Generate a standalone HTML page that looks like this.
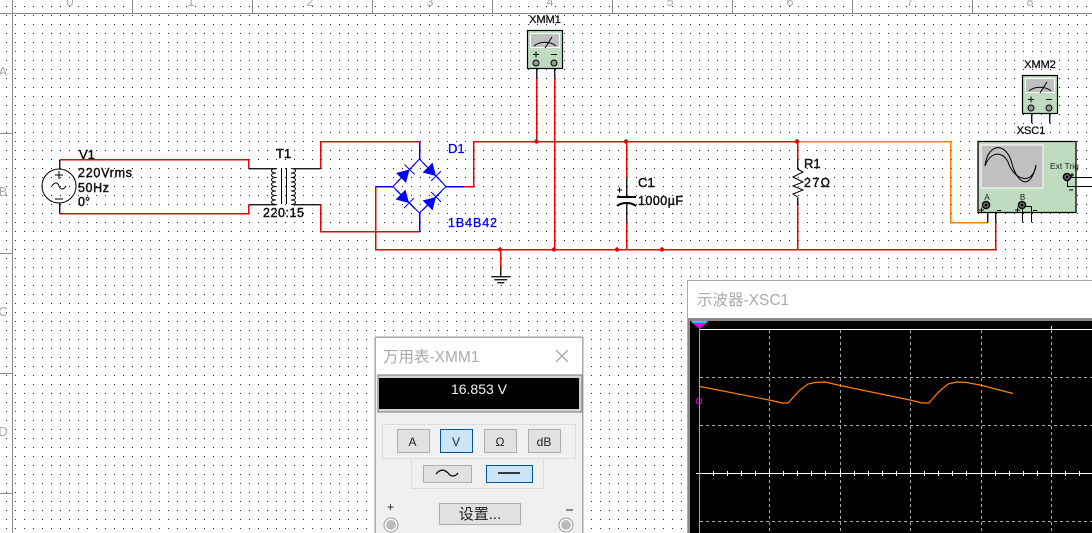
<!DOCTYPE html>
<html><head><meta charset="utf-8"><style>
html,body{margin:0;padding:0;background:#fff}
svg{display:block}
text{font-family:"Liberation Sans","Noto Sans CJK SC",sans-serif}
.l{font-size:12.5px;fill:#111;stroke:#111;stroke-width:.45}
.b{font-size:12.5px;fill:#0000ff;stroke:#0000ff;stroke-width:.3}
.r{stroke:#f00000;stroke-width:1.500;fill:none}
.k{stroke:#000;stroke-width:1;fill:none}
.u{stroke:#0000ff;stroke-width:1.500;fill:none}
.btn{fill:#e1e1e1;stroke:#adadad;stroke-width:1}
.sel{fill:#cce4f7;stroke:#005499;stroke-width:1}
.g{fill:none;stroke:#dcdcdc;stroke-width:1}
.gr{font-size:13px;fill:#aaa}
</style></head><body>
<svg width="1092" height="533" viewBox="0 0 1092 533" xmlns="http://www.w3.org/2000/svg">
<defs>
<pattern id="d" x="0" y="0" width="9" height="9" patternUnits="userSpaceOnUse"><rect x="6" y="6" width="1" height="1" fill="#222"/></pattern>
<g id="dio"><path d="M-7 -7V7L5 0Z" fill="#0000ff"/><path d="M5 -7V7M-13 0H13" stroke="#0000ff" stroke-width="1"/></g>
<g id="tm"><circle r="3" fill="#999" stroke="#000"/></g>
<g id="ct"><circle r="3.600" fill="#666" stroke="#000" stroke-width="1.400"/><circle r="1.300" fill="#000"/></g>
</defs>
<rect width="1092" height="533" fill="#fff"/>
<rect width="1092" height="533" fill="url(#d)"/>
<g stroke="#8a8a8a" stroke-width="1" fill="none" shape-rendering="crispEdges">
<path d="M0 13.500H1092M12.500 0V533M132.500 0V13M252.500 0V13M372.500 0V13M492.500 0V13M612.500 0V13M732.500 0V13M852.500 0V13M972.500 0V13M0 133.500H12M0 253.500H12M0 373.500H12M0 493.500H12"/>
</g>
<g class="gr" text-anchor="middle">
<text x="70" y="6">0</text><text x="191" y="6">1</text><text x="310" y="6">2</text><text x="430" y="6">3</text><text x="550" y="6">4</text><text x="670" y="6">5</text><text x="790" y="6">6</text><text x="910" y="6">7</text><text x="1030" y="6">8</text>
<text x="3" y="76">A</text><text x="3" y="196">B</text><text x="3" y="316">C</text><text x="3" y="436">D</text>
</g>

<!-- wires -->
<g transform="translate(.25 .25)">
<path class="r" d="M59.500 159.500H248.500V168.500M59.500 213.500H248.500V204.500"/>
<path class="k" d="M59.500 159.500V169M59.500 203V213.500M248.500 168.500H276M248.500 204.500H276M293 168.500H320.500M293 204.500H320.500" style="stroke-width:1.300"/>
<path class="r" d="M320.500 168.500V141.500H419.500M320.500 204.500V231.500H419.500"/>
<path class="u" d="M419.500 141.500V159M419.500 213V231.500M375.500 186.500H393M446 186.500H464"/>
<path class="r" d="M464 186.500H473.500V141.500H797.500"/>
<path class="r" d="M375.500 186.500V249.500H995.500V222"/>
<path class="k" d="M995.500 222V206.500H987.500M987.500 222.500V206.500" style="stroke-width:1.300"/>
<path d="M797.500 141.500H950.500V222.500H987" fill="none" stroke="#ff8000" stroke-width="1.500"/>
<path class="r" d="M536.500 78V141.500M554.500 78V249.500M626.500 141.500V178M626.500 222V249.500M797.500 141.500V160M797.500 205V249.500M500.500 249.500V268"/>
<path class="k" d="M536.500 66V78M554.500 66V78M626.500 178V197M626.500 204V222M500.500 268V276M491 276.500H510M494 279.500H507M497 282.500H504" style="stroke-width:1.300"/>
<path class="k" d="M797.500 160V169M797.500 197V205M1031.500 111V123M1049.500 111V123" style="stroke-width:1.300"/>
</g>
<g fill="#f00000">
<circle cx="536.500" cy="141.500" r="2.200"/><circle cx="626" cy="141.500" r="2.200"/><circle cx="797" cy="141.500" r="2.200"/><circle cx="500" cy="249.500" r="2.200"/><circle cx="554" cy="249.500" r="2.200"/><circle cx="617" cy="249.500" r="2.200"/><circle cx="662" cy="249.500" r="2.200"/>
</g>

<!-- source -->
<circle cx="59" cy="186" r="17" fill="none" stroke="#000"/>
<path d="M55 175H63M59 171V179M55 199H63M52 186C55 181 58 183 59 186C60 189 63 191 66 186" stroke="#000" fill="none"/>
<text class="l" x="79" y="159" style="font-size:13px">V1</text>
<text class="l" x="78" y="177" textLength="54">220Vrms</text>
<text class="l" x="78" y="192" textLength="31">50Hz</text>
<text class="l" x="78" y="206">0°</text>

<!-- transformer -->
<path d="M276 168.500c-6 0-6 4.500 0 4.500c-6 0-6 4.500 0 4.500c-6 0-6 4.500 0 4.500c-6 0-6 4.500 0 4.500c-6 0-6 4.500 0 4.500c-6 0-6 4.500 0 4.500c-6 0-6 4.500 0 4.500c-6 0-6 4.500 0 4.500" fill="none" stroke="#000"/>
<path d="M291 168.500c6 0 6 4.500 0 4.500c6 0 6 4.500 0 4.500c6 0 6 4.500 0 4.500c6 0 6 4.500 0 4.500c6 0 6 4.500 0 4.500c6 0 6 4.500 0 4.500c6 0 6 4.500 0 4.500c6 0 6 4.500 0 4.500" fill="none" stroke="#000"/>
<path d="M281.500 168V204M286.500 168V204" stroke="#000" shape-rendering="crispEdges"/>
<text class="l" x="276" y="158" style="font-size:13px">T1</text>
<text class="l" x="263" y="217" textLength="41">220:15</text>

<!-- bridge -->
<path d="M419.500 159L393 186.500L419.500 213L446 186.500Z" fill="none" stroke="#0000ff" stroke-width="1.100"/>
<use href="#dio" transform="translate(406 173) rotate(-45)"/>
<use href="#dio" transform="translate(432.500 172.500) rotate(45)"/>
<use href="#dio" transform="translate(405.500 199.500) rotate(45)"/>
<use href="#dio" transform="translate(432.500 200.500) rotate(-45)"/>
<text class="b" x="448" y="153" style="font-size:13px">D1</text>
<text class="b" x="448" y="227" textLength="49">1B4B42</text>

<!-- capacitor -->
<path d="M617 197H636" stroke="#000" stroke-width="2"/>
<path d="M617 206C622 202 631 202 636 206" stroke="#000" stroke-width="2" fill="none"/>
<path d="M617 190H622M619.500 187.500V192.500" stroke="#000"/>
<text class="l" x="638" y="187" style="font-size:13px">C1</text>
<text class="l" x="638" y="205" textLength="45">1000µF</text>

<!-- resistor -->
<path d="M797.500 169L803 172L793 177L803 182L793 186L803 190L793 194L797.500 197" fill="none" stroke="#000"/>
<text class="l" x="804" y="168" style="font-size:13px">R1</text>
<text class="l" x="804" y="187" textLength="26">27Ω</text>

<!-- XMM1 -->
<text x="545" y="23" text-anchor="middle" class="l" style="font-size:11px;stroke-width:.3">XMM1</text>
<rect x="527.500" y="30.500" width="35" height="38" fill="#c0dcc0" stroke="#000" stroke-width="1.200"/>
<rect x="530.500" y="33.500" width="29" height="14" fill="#c0c0c0" stroke="#fff"/>
<path d="M534 46C540 41 550 41 556 46M545 48L552 37" fill="none" stroke="#000"/>
<path d="M533 54.500H539M536 51.500V57.500M551 54.500H557" stroke="#000"/>
<use href="#tm" x="536" y="63"/><use href="#tm" x="554" y="63"/>

<!-- XMM2 -->
<text x="1040" y="68" text-anchor="middle" class="l" style="font-size:11px;stroke-width:.3">XMM2</text>
<rect x="1022.500" y="75.500" width="35" height="38" fill="#c0dcc0" stroke="#000" stroke-width="1.200"/>
<rect x="1025.500" y="78.500" width="29" height="14" fill="#c0c0c0" stroke="#fff"/>
<path d="M1029 91C1035 86 1045 86 1051 91M1040 93L1047 82" fill="none" stroke="#000"/>
<path d="M1028 99.500H1034M1031 96.500V102.500M1046 99.500H1052" stroke="#000"/>
<use href="#tm" x="1031" y="108"/><use href="#tm" x="1049" y="108"/>

<!-- XSC1 -->
<text x="1031" y="134" text-anchor="middle" class="l" style="font-size:11px;stroke-width:.3">XSC1</text>
<rect x="978" y="141.500" width="98" height="71" fill="#c0dcc0" stroke="#000" stroke-width="1.300"/>
<rect x="981" y="145" width="62" height="43" fill="#c0c0c0" stroke="#fff"/>
<path d="M985 166C987 146 1003 140 1011 160C1017 186 1031 190 1036 165" fill="none" stroke="#000"/>
<path d="M985 166C990 152 1002 150 1008 162C1014 180 1032 186 1036 166" fill="none" stroke="#000"/>
<text x="1050" y="169" style="font-size:8.500px;fill:#222">Ext Trig</text>
<text x="987" y="200" text-anchor="middle" style="font-size:8px;fill:#222">A</text>
<text x="1022.500" y="200" text-anchor="middle" style="font-size:8px;fill:#222">B</text>
<path d="M979 210H984M981.500 207.500V212.500M997 210.500H1001M1015 210H1020M1017.500 207.500V212.500M1033 210.500H1037M1070 175H1074M1072 173V177M1069 190H1073" stroke="#000" fill="none"/>
<g shape-rendering="crispEdges"><path class="k" d="M1022.500 206.500V222.500M1031.500 206.500V222.500M1022.500 206.500H1031.500M1067.500 177.500V186.500H1092M1067.500 177.500H1092"/></g>
<use href="#ct" x="986" y="205"/><use href="#ct" x="1022" y="205"/><use href="#ct" x="1067" y="177"/>

<!-- Multimeter window -->
<rect x="375" y="337" width="208" height="200" fill="#f0f0f0" stroke="#aaa" stroke-width="1"/>
<rect x="375.500" y="337.500" width="207" height="37" fill="#fff"/>
<path d="M375.500 337V533M582.500 337V533M375 337.500H583" stroke="#aaa" fill="none"/>
<text x="383" y="362" style="font-size:15.500px;fill:#aaa">万用表-XMM1</text>
<path d="M556 350L568 362M568 350L556 362" stroke="#999" stroke-width="1.200"/>
<rect x="378" y="375" width="204" height="37" fill="#d4d4d4" stroke="#777"/>
<rect x="379" y="378" width="200" height="31" fill="#000"/>
<text x="479" y="394" text-anchor="middle" style="font-size:14px;fill:#f4f4f4">16.853 V</text>
<rect x="382.500" y="424.500" width="193" height="34" class="g"/>
<rect x="411.500" y="458.500" width="132" height="30" class="g"/>
<rect x="397.500" y="429.500" width="32" height="23" class="btn"/>
<rect x="440.500" y="429.500" width="32" height="23" class="sel"/>
<rect x="484.500" y="429.500" width="32" height="23" class="btn"/>
<rect x="528.500" y="429.500" width="32" height="23" class="btn"/>
<g text-anchor="middle" style="font-size:12px;fill:#222">
<text x="412.500" y="446">A</text><text x="456" y="446">V</text><text x="500" y="446">Ω</text><text x="544" y="446">dB</text>
</g>
<rect x="423.500" y="465.500" width="48" height="17" class="btn"/>
<rect x="486.500" y="465.500" width="46" height="17" class="sel"/>
<path d="M436 474C441 468 445 470 448 473C451 477 455 477 458 473" fill="none" stroke="#000" stroke-width="1.200"/>
<path d="M498 473H520" stroke="#000" stroke-width="1.500"/>
<rect x="439.500" y="503.500" width="81" height="21" class="btn"/>
<text x="480" y="519" text-anchor="middle" style="font-size:15px;fill:#222">设置...</text>
<text x="390.500" y="511" text-anchor="middle" style="font-size:12px;fill:#222">+</text>
<path d="M566 510H573" stroke="#222"/>
<circle cx="391" cy="525" r="7" fill="#fff" stroke="#999"/><circle cx="391" cy="525" r="5" fill="#bbb"/>
<circle cx="566" cy="525" r="7" fill="#fff" stroke="#999"/><circle cx="566" cy="525" r="5" fill="#bbb"/>

<!-- Oscilloscope window -->
<rect x="687.500" y="280.500" width="410" height="260" fill="#fff" stroke="#aaa"/>
<text x="697" y="305" style="font-size:15.500px;fill:#aaa">示波器-XSC1</text>
<rect x="688" y="318" width="404" height="215" fill="#8a8a8a"/>
<rect x="690" y="321" width="402" height="212" fill="#000"/>
<g shape-rendering="crispEdges">
<path d="M700 329.500H1092" stroke="#fff"/>
<path d="M769.500 330V533M840.500 330V533M910.500 330V533M981.500 330V533M1051.500 330V533M700 377.500H1092M700 425.500H1092M700 521.500H1092" stroke="#aaa" stroke-dasharray="3 3" fill="none"/>
<path d="M696 473.500H1092M769.500 470V477M840.500 470V477M910.500 470V477M981.500 470V477M1051.500 470V477M1051.500 326V330" stroke="#fff" stroke-width="1" fill="none"/>
<path d="M727.500 471V476M741.500 471V476M755.500 471V476M783.500 471V476M797.500 471V476M811.500 471V476M825.500 471V476M854.500 471V476M868.500 471V476M882.500 471V476M896.500 471V476M924.500 471V476M938.500 471V476M952.500 471V476M966.500 471V476M995.500 471V476M1009.500 471V476M1023.500 471V476M1037.500 471V476M1065.500 471V476M1079.500 471V476M713.500 471V476" stroke="#fff" fill="none"/>
<path d="M699.500 325V533" stroke="#33ee33"/>
</g>
<path d="M691 322H708L699.500 329Z" fill="#e000e0"/><path d="M691 321H708L706 323H693Z" fill="#00e0e0"/>
<circle cx="699" cy="401" r="2.800" fill="none" stroke="#e000e0"/>
<polyline points="700,386.500 769,400 782,403 788,403 800,390 808,384 815,382.500 825,382 840,385.500 910,400 922,403 929,403 938,392.500 948,384 957,382 967,382.500 982,385.500 1013,393.500" fill="none" stroke="#ff8000" stroke-width="1.200"/>
</svg>
</body></html>
